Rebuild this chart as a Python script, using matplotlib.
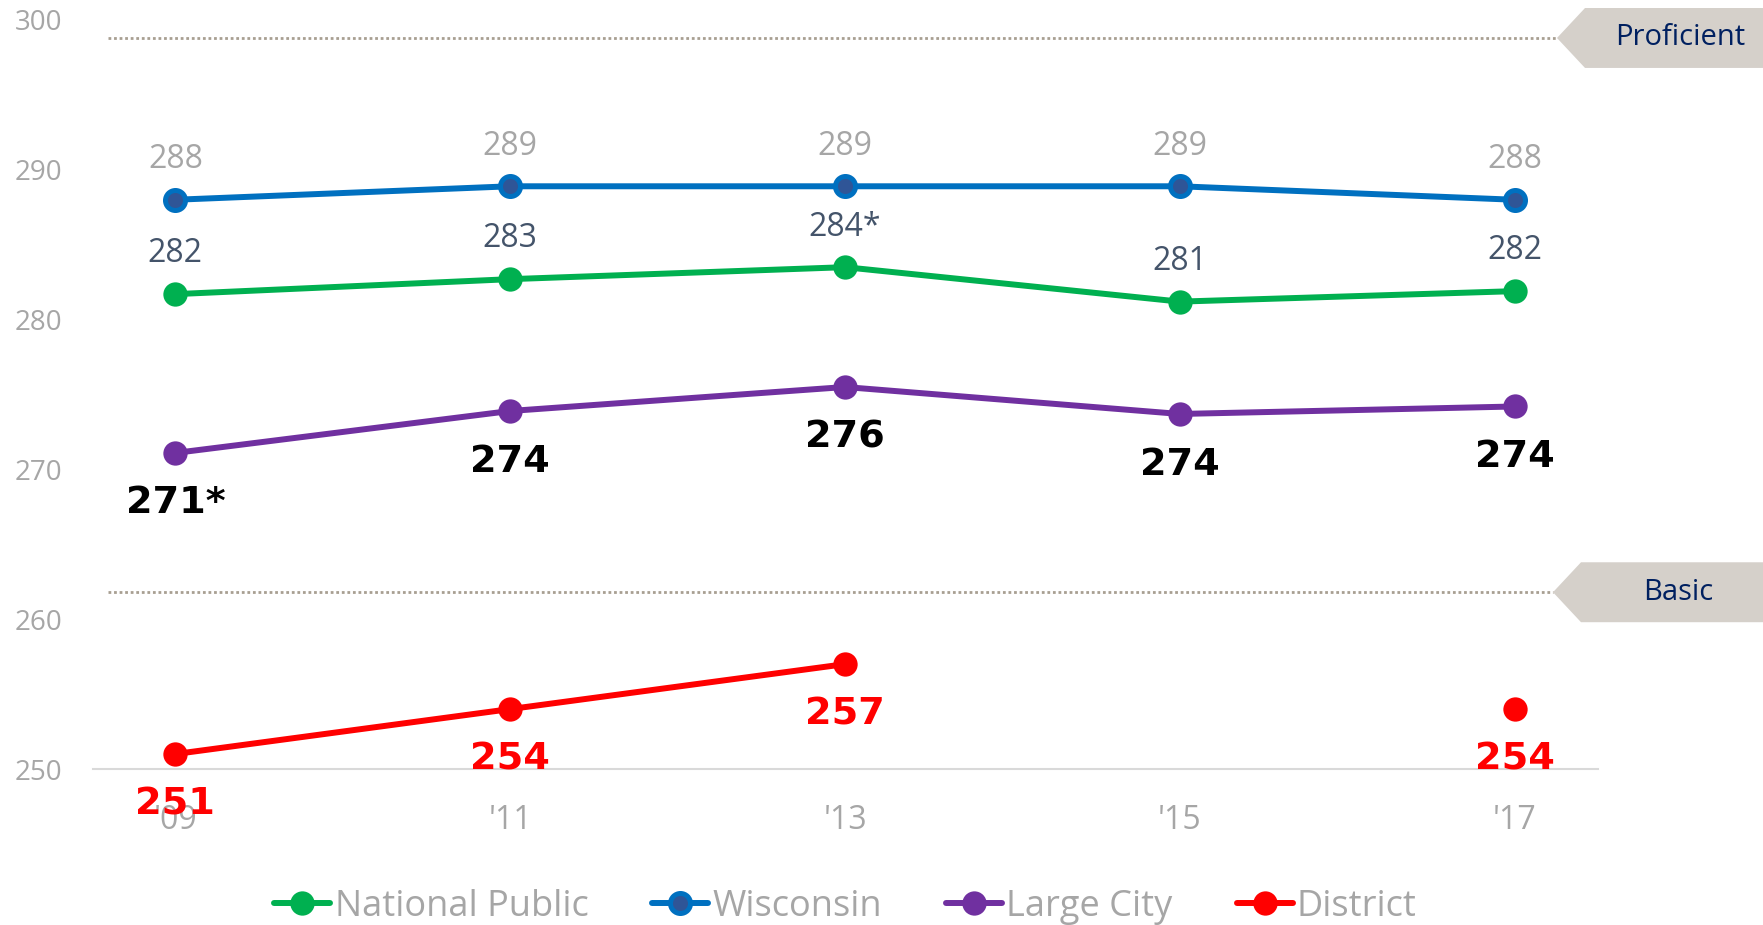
"""Average score trend chart: National Public, Wisconsin, Large City, District."""

import matplotlib

matplotlib.use("Agg")
import matplotlib.pyplot as plt
import numpy as np
from matplotlib.patches import Polygon
from matplotlib.transforms import blended_transform_factory

# ---- data ----
years = ["'09", "'11", "'13", "'15", "'17"]

national = [281.7, 282.7, 283.5, 281.2, 281.9]
national_labels = ["282", "283", "284*", "281", "282"]

wisconsin = [288.0, 288.9, 288.9, 288.9, 288.0]
wisconsin_labels = ["288", "289", "289", "289", "288"]

large_city = [271.1, 273.9, 275.5, 273.7, 274.2]
large_city_labels = ["271*", "274", "276", "274", "274"]

district = [251.0, 254.0, 257.0, np.nan, 254.0]
district_labels = ["251", "254", "257", "", "254"]

yticks = [250, 260, 270, 280, 290, 300]
levels = [("Proficient", 299), ("Basic", 262)]

# ---- style ----
W, H = 1763, 925
GREY = "#A6A6A6"
SANS = ["Open Sans", "DejaVu Sans"]
BOLD = ["DejaVu Sans"]
LEVEL_SHIFT = -0.2  # dotted lines sit a touch below the nominal cut score

fig = plt.figure(figsize=(W / 100, H / 100), dpi=100)
ax = fig.add_axes([93 / W, (H - 769) / H, 1505 / W, 749 / H])

x = np.arange(len(years))
line_kw = dict(linewidth=4.3, marker="o", markersize=16, markeredgewidth=1.5,
               solid_capstyle="round", zorder=3)

h_nat, = ax.plot(x, national, color="#00B050", markeredgecolor="#00B050",
                 label="National Public", **line_kw)
h_wi, = ax.plot(x, wisconsin, color="#0070C0", label="Wisconsin",
                **{**line_kw, "markersize": 14.4, "markeredgewidth": 3.6,
                   "markerfacecolor": "#2F5597", "markeredgecolor": "#0070C0"})
h_lc, = ax.plot(x, large_city, color="#7030A0", markeredgecolor="#7030A0",
                label="Large City", **line_kw)
h_di, = ax.plot(x, district, color="#FF0000", markeredgecolor="#FF0000",
                label="District", **line_kw)


# data labels
def label(vals, texts, dy, color, size, family, weight="normal"):
    for xi, v, t in zip(x, vals, texts):
        if not t:
            continue
        ax.annotate(t, (xi, v), xytext=(0, dy), textcoords="offset points",
                    ha="center", va="baseline", color=color, fontsize=size,
                    family=family, fontweight=weight, annotation_clip=False,
                    zorder=5)


label(wisconsin, wisconsin_labels, 22.8, GREY, 23, SANS)
label(national, national_labels, 22.8, "#44546A", 23, SANS)
label(large_city, large_city_labels, -43.6, "black", 27.5, BOLD, "bold")
label(district, district_labels, -43.6, "#FF0000", 27.5, BOLD, "bold")

# achievement-level lines and badges
tr = blended_transform_factory(fig.transFigure, ax.transData)
tips = [1557 / W, 1553 / W]
for (name, lvl), tip in zip(levels, tips):
    y = lvl + LEVEL_SHIFT
    ax.plot([108 / W, tip], [y, y], transform=tr, color="#A89F92",
            linewidth=2.0, linestyle=(0, (1, 1)), clip_on=False, zorder=2)
    corner = tip + 28 / W
    badge = Polygon([(tip, y), (corner, y + 2), (1.0, y + 2),
                     (1.0, y - 2), (corner, y - 2)], closed=True,
                    transform=tr, facecolor="#D5D0CA", edgecolor="none",
                    clip_on=False, zorder=2)
    ax.add_patch(badge)
    ax.text((corner + 1.0) / 2 + 6 / W, y, name, transform=tr, ha="center",
            va="center", color="#002060", fontsize=21, family=SANS)

# axes
ax.set_xlim(-0.246, 4.249)
ax.set_ylim(250, 300)
ax.set_xticks(x)
ax.set_xticklabels(years, fontsize=23, color=GREY, family=SANS)
ax.set_yticks(yticks)
ax.set_yticklabels([str(t) for t in yticks], fontsize=20, color=GREY, family=SANS)
ax.tick_params(axis="x", length=0, pad=25)
ax.tick_params(axis="y", length=0, pad=22)
for side in ["top", "right", "left"]:
    ax.spines[side].set_visible(False)
ax.spines["bottom"].set_color("#D9D9D9")
ax.spines["bottom"].set_linewidth(1.5)

leg = fig.legend(handles=[h_nat, h_wi, h_lc, h_di], loc="center",
                 bbox_to_anchor=(845.5 / W, 18 / H), ncol=4, frameon=False,
                 handlelength=1.55, handletextpad=0.12, columnspacing=1.77,
                 prop={"family": SANS, "size": 26})
for t in leg.get_texts():
    t.set_color(GREY)

fig.savefig("out.png", dpi=100, facecolor="white")
